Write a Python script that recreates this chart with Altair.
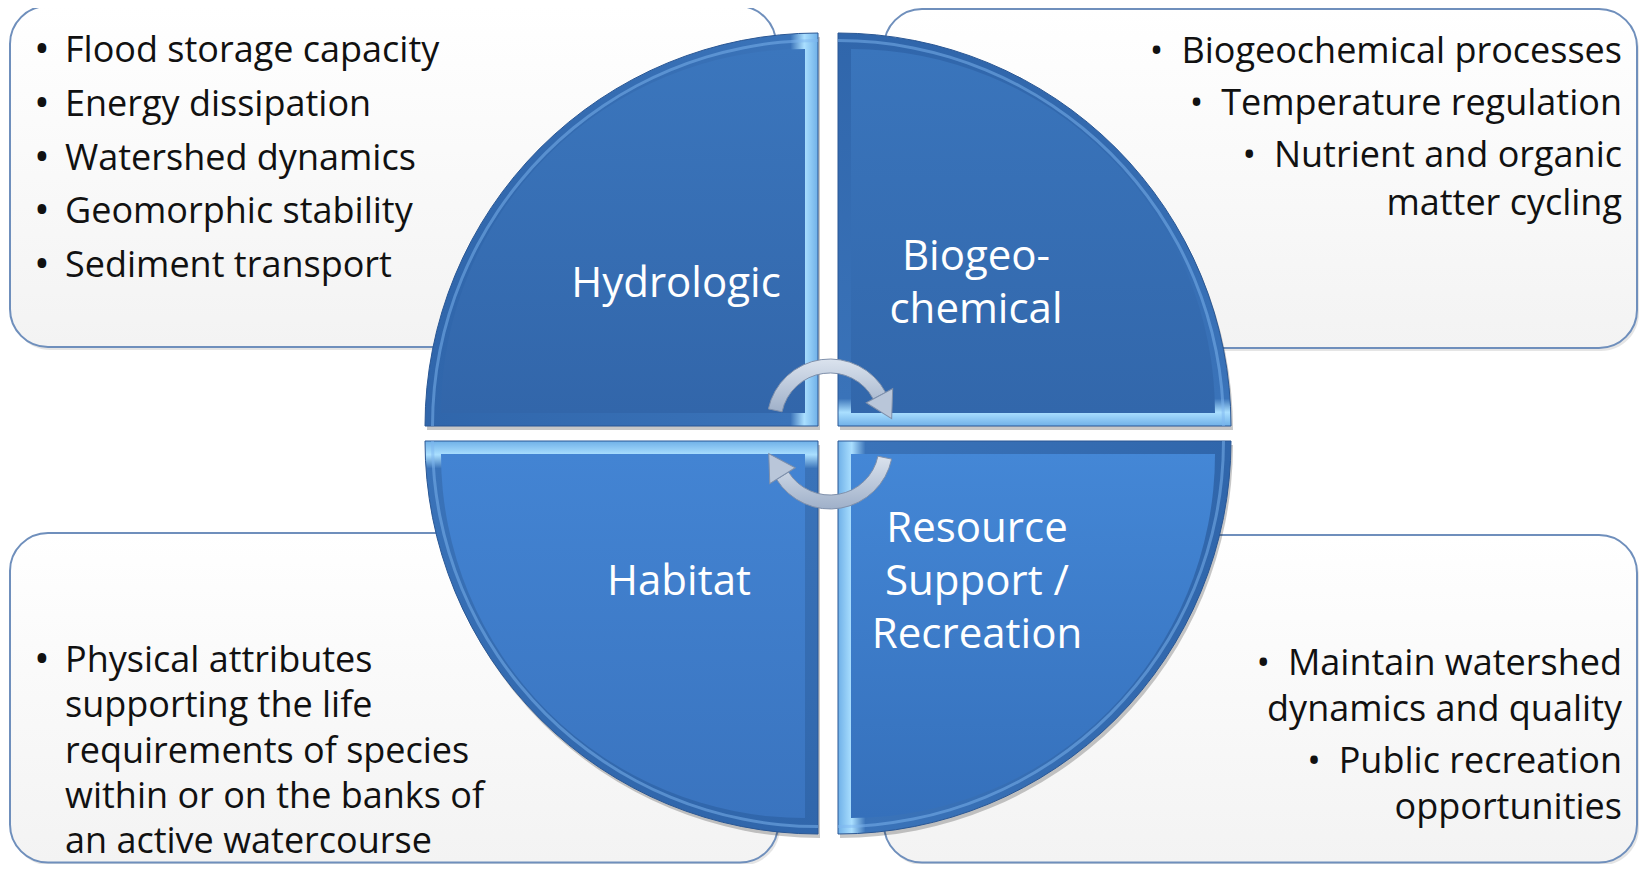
import math
import altair as alt
import pandas as pd

# ---------------- content ----------------
quad_names = ["Hydrologic", "Biogeochemical", "Habitat", "Resource"]
quad_labels = [["Hydrologic"], ["Biogeo-", "chemical"], ["Habitat"],
               ["Resource", "Support /", "Recreation"]]

tl_items = ["Flood storage capacity", "Energy dissipation", "Watershed dynamics",
            "Geomorphic stability", "Sediment transport"]
tr_items = [["Biogeochemical processes"], ["Temperature regulation"],
            ["Nutrient and organic", "matter cycling"]]
bl_items = [["Physical attributes", "supporting the life", "requirements of species",
             "within or on the banks of", "an active watercourse"]]
br_items = [["Maintain watershed", "dynamics and quality"],
            ["Public recreation", "opportunities"]]

# ---------------- layout ----------------
W, H = 1632, 856
XS = alt.Scale(domain=[8, 8 + W], nice=False, zero=False)
YS = alt.Scale(domain=[8, 8 + H], nice=False, zero=False, reverse=True)
FONT = "Open Sans"
BODY = 36
LABEL = 42

box_x = [10, 884, 10, 884]
box_x2 = [776, 1637, 778, 1637]
box_y = [6, 9, 533, 535]
box_y2 = [347, 348, 862.5, 862.5]

quad_cx = [818, 838, 818, 838]
quad_cy = [426, 426, 441, 441]
quad_dir = [(-1, -1), (1, -1), (-1, 1), (1, 1)]
quad_t0 = [270, 0, 180, 90]
R = 393
BEV = 13
R_FACE = 364

label_x = [676, 976, 679, 977]
label_y0 = [297, 270, 595, 542]
label_dy = 53


def lin(stops, x1=0, y1=0, x2=0, y2=1):
    return alt.LinearGradient(
        gradient="linear",
        stops=[alt.GradientStop(offset=o, color=c) for o, c in stops],
        x1=x1, y1=y1, x2=x2, y2=y2)


def X(f="x"):
    return alt.X(f + ":Q", scale=XS, axis=None)


def Y(f="y"):
    return alt.Y(f + ":Q", scale=YS, axis=None)


layers = []

# ---------------- boxes ----------------
boxes = pd.DataFrame({"x": box_x, "x2": box_x2, "y": box_y, "y2": box_y2})
shadow_boxes = boxes.copy()
for c in ["x", "x2"]:
    shadow_boxes[c] = shadow_boxes[c] + 2
for c in ["y", "y2"]:
    shadow_boxes[c] = shadow_boxes[c] + 3
layers.append(alt.Chart(shadow_boxes).mark_rect(cornerRadius=38, color="#000000", opacity=0.10)
              .encode(x=X(), x2="x2:Q", y=Y(), y2="y2:Q"))
layers.append(alt.Chart(boxes).mark_rect(
    cornerRadius=38, fill=lin([(0, "#ffffff"), (1, "#f3f3f3")]),
    stroke="#6f8fbc", strokeWidth=2)
    .encode(x=X(), x2="x2:Q", y=Y(), y2="y2:Q"))

# ---------------- quadrants ----------------
rad = math.pi / 180
quads = pd.DataFrame({
    "name": quad_names, "cx": quad_cx, "cy": quad_cy,
    "t0": [t * rad for t in quad_t0], "t1": [(t + 90) * rad for t in quad_t0],
    "dx": [d[0] for d in quad_dir], "dy": [d[1] for d in quad_dir],
})
quads["sx"] = quads["cx"] + 2
quads["sy"] = quads["cy"] + 4
quads["fx"] = quads["cx"] + BEV * quads["dx"]
quads["fy"] = quads["cy"] + BEV * quads["dy"]

theta = alt.Theta("t0:Q", scale=None, stack=None)
theta2 = alt.Theta2("t1:Q")

# shadow
layers.append(alt.Chart(quads).mark_arc(radius=R, color="#000000", opacity=0.22)
              .encode(x=X("sx"), y=Y("sy"), theta=theta, theta2=theta2))

bevel_stops = [(0, "#3066ab"), (0.93, "#3a73b9"), (0.965, "#aadfff"), (1, "#6fb0e8")]
bevel_dirs = [dict(x1=0, y1=0, x2=1, y2=0), dict(x1=0, y1=0, x2=0, y2=1),
              dict(x1=0, y1=1, x2=0, y2=0), dict(x1=1, y1=0, x2=0, y2=0)]
face_stops = [[(0, "#3b76bd"), (1, "#3266aa")],
              [(0, "#3a75bc"), (1, "#3267ab")],
              [(0, "#4384d3"), (1, "#3a74bf")],
              [(0, "#4487d6"), (1, "#3570bb")]]

for i, nm in enumerate(quad_names):
    q = quads[quads["name"] == nm]
    layers.append(alt.Chart(q).mark_arc(radius=R, fill=lin(bevel_stops, **bevel_dirs[i]),
                                        stroke="#2a5794", strokeWidth=1)
                  .encode(x=X("cx"), y=Y("cy"), theta=theta, theta2=theta2))
    layers.append(alt.Chart(q).mark_arc(radius=R - 6, radius2=R - 9, color="#7db6f0", opacity=0.5)
                  .encode(x=X("cx"), y=Y("cy"), theta=theta, theta2=theta2))
    layers.append(alt.Chart(q).mark_arc(radius=R_FACE, fill=lin(face_stops[i]))
                  .encode(x=X("fx"), y=Y("fy"), theta=theta, theta2=theta2))

# ---------------- circular arrows ----------------
arrow_cx = [830, 830]
arrow_cy = [422, 446]
arrow_start = [282, 102]
arrow_end = [62, 238]
R_IN, R_OUT = 49, 63
arrows = pd.DataFrame({
    "cx": arrow_cx, "cy": arrow_cy,
    "t0": [a * rad for a in arrow_start],
    "t1": [((e if e > s else e + 360)) * rad for s, e in zip(arrow_start, arrow_end)],
})
arrow_fill = lin([(0, "#dbe3ee"), (1, "#9fb0c9")])
layers.append(alt.Chart(arrows).mark_arc(radius=R_OUT, radius2=R_IN, fill=arrow_fill,
                                         stroke="#7f90ab", strokeWidth=1)
              .encode(x=X("cx"), y=Y("cy"), theta=theta, theta2=theta2))

HEAD_W = 30
half_h = 0.866 * HEAD_W / 2
rm = (R_IN + R_OUT) / 2
hx, hy, ha = [], [], []
for cx, cy, e in zip(arrow_cx, arrow_cy, arrow_end):
    t = e * rad
    px, py = cx + rm * math.sin(t), cy - rm * math.cos(t)
    tx, ty = math.cos(t), math.sin(t)
    hx.append(px + tx * half_h)
    hy.append(py + ty * half_h)
    ha.append((e + 90) % 360)
heads = pd.DataFrame({"x": hx, "y": hy, "ang": ha})
layers.append(alt.Chart(heads).mark_point(shape="triangle-up", filled=True, size=HEAD_W ** 2,
                                          color="#b9c6d9", stroke="#7f90ab", strokeWidth=1,
                                          opacity=1)
              .encode(x=X(), y=Y(), angle=alt.Angle("ang:Q", scale=None)))

# ---------------- quadrant labels ----------------
lab_rows = []
for i, lines in enumerate(quad_labels):
    for k, ln in enumerate(lines):
        lab_rows.append({"text": ln, "x": label_x[i], "y": label_y0[i] + k * label_dy})
labels = pd.DataFrame(lab_rows)
layers.append(alt.Chart(labels).mark_text(font=FONT, fontSize=LABEL, color="#ffffff",
                                          align="center", baseline="alphabetic")
              .encode(x=X(), y=Y(), text="text:N"))

# ---------------- box texts ----------------
BULLET = "\u2022"
left_rows, right_rows, bullet_rows = [], [], []

# top-left
for i, t in enumerate(tl_items):
    y = 62 + 53.75 * i
    bullet_rows.append({"text": BULLET, "x": 42, "y": y + 1})
    left_rows.append({"text": t, "x": 65, "y": y})

# bottom-left
y = 672
for item in bl_items:
    bullet_rows.append({"text": BULLET, "x": 42, "y": y + 1})
    for ln in item:
        left_rows.append({"text": ln, "x": 65, "y": y})
        y += 45.3


def right_block(items, y, x=1622, wrap=46, gap=52):
    rows = []
    for item in items:
        for k, ln in enumerate(item):
            txt = (BULLET + "\u2002" + ln) if k == 0 else ln
            rows.append({"text": txt, "x": x, "y": y})
            y += wrap if k < len(item) - 1 else 0
        y += gap
    return rows


right_rows += right_block(tr_items, 63, wrap=48, gap=52)
right_rows += right_block(br_items, 675, wrap=46, gap=52)

for rows, al, fs in [(left_rows, "left", BODY), (right_rows, "right", BODY),
                     (bullet_rows, "center", BODY + 6)]:
    layers.append(alt.Chart(pd.DataFrame(rows)).mark_text(
        font=FONT, fontSize=fs, color="#111111", align=al, baseline="alphabetic")
        .encode(x=X(), y=Y(), text="text:N"))

chart = alt.layer(*layers).properties(
    width=W, height=H, padding=0, background="white",
    autosize=alt.AutoSizeParams(type="none"),
).configure_view(strokeWidth=0)

chart.save("out.html", embed_options={"renderer": "svg", "actions": False})
